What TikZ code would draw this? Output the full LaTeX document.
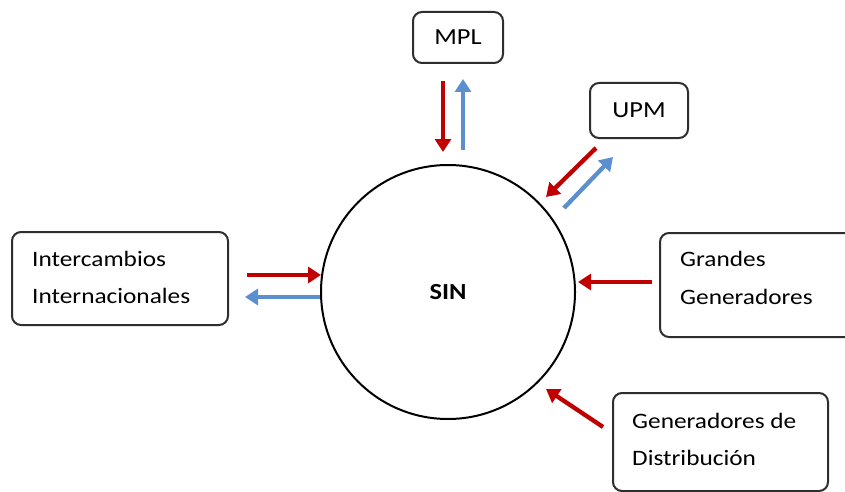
\documentclass[tikz,border=0pt]{standalone}
\usepackage{fontspec}
\setmainfont{Carlito}[FakeStretch=1.15]
\usetikzlibrary{arrows.meta,calc}
\definecolor{flowred}{HTML}{C00000}
\definecolor{flowblue}{HTML}{5B8FCF}
\definecolor{boxline}{HTML}{2E2E2E}
\tikzset{
  entity/.style={draw=boxline, line width=2pt, rounded corners=9pt, fill=white},
  lbl/.style={anchor=base west, inner sep=0pt, font=\fontsize{22}{26}\selectfont},
  flow/.style={line width=4.3pt, -{Triangle[length=13pt,width=16pt]}},
  inflow/.style={flow, draw=flowred, color=flowred},
  outflow/.style={flow, draw=flowblue, color=flowblue},
}
\begin{document}
\begin{tikzpicture}[x=1pt, y=-1pt]
  \useasboundingbox (0,0) rectangle (845,492);

  % central system
  \node[draw, circle, line width=2pt, minimum size=254pt,
        font=\bfseries\fontsize{23}{27}\selectfont] (sin) at (448,292) {SIN};

  % surrounding agents
  \node[entity, minimum width=90pt, minimum height=51pt,
        font=\fontsize{23}{27}\selectfont] (mpl) at (458,37.5) {MPL};
  \node[entity, minimum width=98pt, minimum height=55pt,
        font=\fontsize{23}{27}\selectfont] (upm) at (639,110.5) {UPM};
  \node[entity, minimum width=216pt, minimum height=93pt] (inter) at (120,278.5) {};
  \node[entity, minimum width=200pt, minimum height=104pt] (grandes) at (760,285) {};
  \node[entity, minimum width=215pt, minimum height=98pt] (gendis) at (720.5,442) {};

  % labels of the multi-line boxes
  \node[lbl] (inter1) at (32,266) {Intercambios};
  \node[lbl] (inter2) at (32,303) {Internacionales};
  \node[lbl] (gr1) at (680,266) {Grandes};
  \node[lbl] (gr2) at (680,304) {Generadores};
  \node[lbl] (gd1) at (632,428) {Generadores de};
  \node[lbl] (gd2) at (632,465) {Distribución};

  % flow end points
  \coordinate (mplA) at ($(mpl.south)+(-15,17)$);
  \coordinate (mplB) at ($(sin.north)+(-5,-12)$);
  \coordinate (mplC) at ($(sin.north)+(15,-14)$);
  \coordinate (mplD) at ($(mpl.south)+(5,15)$);
  \coordinate (upmA) at (596,148);
  \coordinate (upmB) at (546,197);
  \coordinate (upmC) at (564,208);
  \coordinate (upmD) at (613,157);
  \coordinate (intA) at (247,275);
  \coordinate (intB) at (321,275);
  \coordinate (intC) at (320,297);
  \coordinate (intD) at (245,297);
  \coordinate (grA) at (652,282);
  \coordinate (grB) at (578,282);
  \coordinate (gdA) at (603,427);
  \coordinate (gdB) at (546,389);

  % energy flows
  \draw[inflow] (mplA) -- (mplB);
  \draw[outflow] (mplC) -- (mplD);
  \draw[inflow] (upmA) -- (upmB);
  \draw[outflow] (upmC) -- (upmD);
  \draw[inflow] (intA) -- (intB);
  \draw[outflow] (intC) -- (intD);
  \draw[inflow] (grA) -- (grB);
  \draw[inflow] (gdA) -- (gdB);
\end{tikzpicture}
\end{document}
